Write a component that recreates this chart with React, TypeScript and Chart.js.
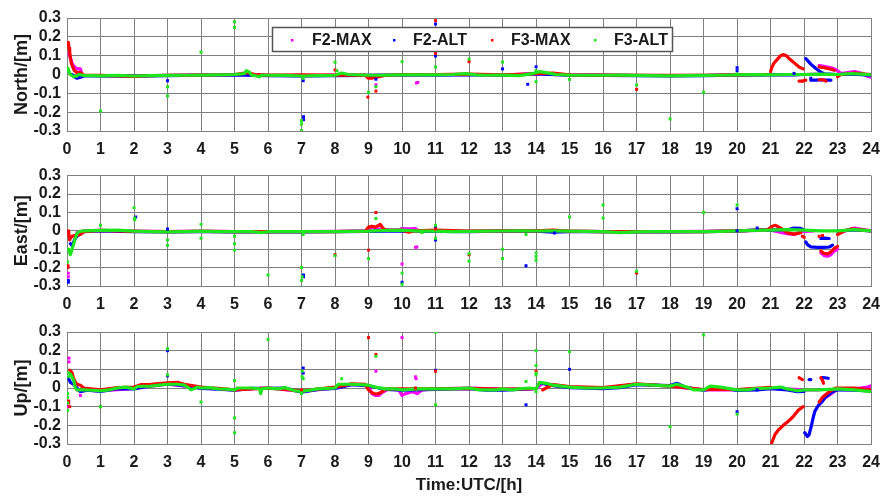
import React, { useEffect, useRef } from 'react';
import { Chart, registerables } from 'chart.js';

Chart.register(...registerables);

type Pt = [number, number | null];

const SERIES_NAMES = ['F2-MAX', 'F2-ALT', 'F3-MAX', 'F3-ALT'];
const SERIES_COLORS = ['#ff00ff', '#0000ff', '#ff0000', '#1de61d'];
const X_TICKS = [0, 1, 2, 3, 4, 5, 6, 7, 8, 9, 10, 11, 12, 13, 14, 15, 16, 17, 18, 19, 20, 21, 22, 23, 24];
const Y_TICKS = [-0.3, -0.2, -0.1, 0, 0.1, 0.2, 0.3];
const Y_TICK_LABELS = ['-0.3', '-0.2', '-0.1', '0', '0.1', '0.2', '0.3'];
const PANEL_TITLES = ['North/[m]', 'East/[m]', 'Up/[m]'];
const X_TITLE = 'Time:UTC/[h]';

// ---------------- North ----------------
const NORTH_F2MAX_TRACK: Pt[] = [
  [0.06, 0.11], [0.1, 0.09], [0.15, 0.06], [0.2, 0.045], [0.3, 0.03], [0.4, 0.03], [0.45, 0.0],
  [0.5, -0.004], [1, -0.006], [2, -0.007], [3, -0.004], [4, -0.002], [5, 0.0], [6, -0.004], [7, -0.007],
  [8, -0.003], [9, -0.004], [10, -0.001], [11, -0.001], [12, 0.0], [13, -0.003], [14, 0.005], [15, -0.003],
  [16, -0.003], [17, -0.004], [18, -0.006], [19, -0.004], [20, -0.002], [21, -0.001], [22, 0.0], [22.4, 0.002], [0, null],
  [22.45, 0.047], [22.6, 0.043], [22.7, 0.04], [22.8, 0.036], [22.9, 0.03], [23.0, 0.02], [23.1, 0.005],
  [23.3, 0.01], [23.5, 0.015], [23.7, 0.008], [23.9, -0.01], [24, -0.015],
];
const NORTH_F2MAX_SPIKES: Pt[] = [[9.22, -0.055], [10.43, -0.045], [10.47, -0.042]];

const NORTH_F2ALT_TRACK: Pt[] = [
  [0.15, 0.0], [0.2, -0.01], [0.3, -0.02], [0.4, -0.015], [0.5, -0.008], [1, -0.008], [2, -0.009], [3, -0.006],
  [4, -0.004], [5, -0.002], [6, -0.006], [7, -0.008], [8, -0.006], [9, -0.005], [10, -0.003], [11, -0.003],
  [12, -0.001], [13, -0.004], [14, 0.003], [15, -0.004], [16, -0.005], [17, -0.006], [18, -0.008], [19, -0.006],
  [20, -0.003], [21, -0.002], [21.7, -0.002], [22.0, 0.0], [0, null],
  [22.05, 0.085], [22.1, 0.075], [22.2, 0.055], [22.3, 0.04], [22.4, 0.025], [22.5, 0.012], [22.6, 0.004],
  [23, 0.0], [23.5, 0.002], [24, -0.005], [0, null],
  [22.2, -0.03], [22.35, -0.03], [22.5, -0.028], [22.65, -0.03], [22.8, -0.03],
];
const NORTH_F2ALT_SPIKES: Pt[] = [
  [3, -0.033], [7.06, -0.224], [7.06, -0.24], [7.05, -0.033], [9.22, -0.025], [11, 0.268], [11, 0.098],
  [13, 0.03], [13.75, -0.052], [14, 0.041], [20, 0.036], [20, 0.02], [21.7, 0.006], [22.2, -0.02],
];

const NORTH_F3MAX_TRACK: Pt[] = [
  [0.04, 0.17], [0.06, 0.14], [0.08, 0.12], [0.1, 0.09], [0.13, 0.06], [0.17, 0.04], [0.22, 0.02], [0.3, 0.01],
  [0.4, 0.01], [0.5, -0.004], [1, -0.005], [2, -0.01], [2.2, -0.008], [3, -0.004], [4, -0.003], [5, 0.0],
  [5.4, 0.01], [5.6, 0.0], [6, -0.003], [7, -0.002], [8, -0.003], [8.9, -0.003], [9.0, -0.02], [9.1, -0.02],
  [9.2, -0.015], [9.35, -0.01], [9.5, -0.004], [10, -0.001], [11, 0.0], [12, 0.002], [13, -0.002], [14, 0.004],
  [14.5, 0.008], [15, -0.002], [16, -0.003], [17, -0.004], [18, -0.005], [19, -0.004], [20, -0.002], [20.9, 0.0], [0, null],
  [21.0, 0.015], [21.03, 0.035], [21.1, 0.06], [21.2, 0.08], [21.3, 0.1], [21.38, 0.106], [21.47, 0.1],
  [21.55, 0.085], [21.65, 0.07], [21.75, 0.055], [21.85, 0.04], [21.97, 0.03], [0, null],
  [21.85, -0.035], [21.95, -0.035], [22.05, -0.03], [0, null],
  [22.45, -0.028], [22.55, -0.028], [22.65, -0.035], [0, null],
  [22.45, 0.04], [22.6, 0.036], [22.7, 0.032], [22.8, 0.028], [22.9, 0.022], [0, null],
  [23.0, -0.012], [23.1, 0.0], [23.5, 0.008], [24, 0.0],
];
const NORTH_F3MAX_SPIKES: Pt[] = [
  [8.0, 0.024], [8.98, -0.12], [9.22, -0.088], [11, 0.286], [11, 0.112], [12, 0.068], [17, -0.079],
];

const NORTH_F3ALT_TRACK: Pt[] = [
  [0.02, 0.035], [0.05, 0.02], [0.1, 0.0], [0.2, -0.012], [0.3, -0.008], [0.35, 0.0], [0.5, -0.005], [1, -0.007],
  [1.5, -0.005], [2, -0.008], [2.5, -0.006], [3, -0.005], [3.5, -0.004], [4, -0.003], [4.5, -0.002], [5, 0.0],
  [5.3, 0.005], [5.35, 0.02], [5.45, 0.012], [5.5, -0.002], [5.75, -0.012], [5.8, -0.004], [6, -0.004],
  [6.5, -0.005], [7, -0.008], [7.5, -0.006], [8, -0.004], [8.2, 0.008], [8.4, 0.0], [9, -0.004], [9.5, -0.003],
  [10, -0.002], [10.5, -0.002], [11, -0.002], [11.5, 0.0], [11.9, 0.005], [12.2, -0.002], [12.5, -0.004],
  [13, -0.003], [13.5, -0.006], [13.9, 0.005], [14.1, 0.015], [14.3, 0.01], [14.6, 0.0], [15, -0.003],
  [15.5, -0.004], [16, -0.004], [16.5, -0.003], [17, -0.005], [17.5, -0.006], [18, -0.007], [18.5, -0.006],
  [19, -0.005], [19.5, -0.004], [20, -0.002], [20.5, -0.001], [21, -0.002], [21.5, 0.0], [22, 0.0],
  [22.5, 0.002], [23, 0.0], [23.4, 0.005], [23.7, 0.002], [24, -0.002],
];
const NORTH_F3ALT_SPIKES: Pt[] = [
  [1, -0.194], [3, -0.065], [3, -0.114], [4, 0.118], [5, 0.28], [5, 0.25], [7, -0.245], [7, -0.263],
  [7, -0.298], [7.05, -0.02], [8, 0.065], [8.06, 0.02], [9, -0.095], [9.22, -0.065], [10, 0.068], [11, 0.04],
  [12, 0.082], [13, 0.066], [14, 0.02], [14, -0.038], [15, -0.026], [17, -0.056], [18, -0.236], [19, -0.095],
  [20, 0.003],
];

// ---------------- East ----------------
const EAST_F2MAX_TRACK: Pt[] = [
  [0.3, -0.01], [0.5, 0.0], [1, 0.003], [2, -0.001], [3, -0.004], [4, -0.002], [5, -0.004], [6, -0.004],
  [7, -0.004], [8, -0.003], [9, 0.0], [9.1, 0.02], [9.2, 0.015], [9.4, 0.005], [9.9, 0.005], [10.0, 0.012],
  [10.2, 0.01], [10.4, 0.012], [10.5, 0.0], [11, -0.001], [12, -0.002], [13, 0.0], [14, 0.0], [15, -0.002],
  [16, -0.004], [17, -0.005], [18, -0.004], [19, -0.003], [20, 0.0], [21, 0.004], [21.5, -0.015],
  [21.7, -0.02], [21.9, -0.005], [22.3, 0.0], [0, null],
  [22.5, -0.12], [22.6, -0.135], [22.7, -0.138], [22.8, -0.13], [22.9, -0.11], [23.0, -0.1], [0, null],
  [23.05, -0.01], [23.5, 0.015], [24, 0.0],
];
const EAST_F2MAX_SPIKES: Pt[] = [[0.04, -0.23], [0.04, -0.25], [10, -0.18], [10.4, -0.09], [10.44, -0.088]];

const EAST_F2ALT_TRACK: Pt[] = [
  [0.1, -0.07], [0.15, -0.08], [0.2, -0.06], [0.25, -0.04], [0.3, -0.03], [0.4, -0.015], [0.5, -0.004],
  [1, 0.0], [2, -0.004], [3, -0.006], [4, -0.004], [5, -0.006], [6, -0.006], [7, -0.006], [8, -0.005],
  [9, -0.003], [10, 0.0], [11, -0.003], [12, -0.004], [13, -0.002], [14, -0.002], [14.5, -0.008], [15, -0.004],
  [16, -0.005], [17, -0.006], [18, -0.006], [19, -0.005], [20, -0.002], [20.6, 0.005], [21, 0.004],
  [21.5, 0.006], [21.7, 0.015], [21.9, 0.013], [22.0, 0.005], [0, null],
  [22.05, -0.06], [22.1, -0.075], [22.2, -0.087], [22.4, -0.09], [22.6, -0.09], [22.75, -0.088], [22.85, -0.078], [0, null],
  [22.5, -0.042], [22.6, -0.04], [22.75, -0.042], [0, null],
  [23, -0.002], [23.5, 0.005], [24, 0.0],
];
const EAST_F2ALT_SPIKES: Pt[] = [
  [0.04, -0.27], [0.04, -0.28], [2.05, 0.075], [3, 0.01], [7.06, -0.24], [7.06, -0.25], [10, -0.28],
  [11, 0.02], [11, -0.05], [13.7, -0.19], [14.55, -0.012], [20, 0.12], [20, 0.0], [20.6, 0.015],
];

const EAST_F3MAX_TRACK: Pt[] = [
  [0.05, 0.0], [0.06, -0.03], [0.08, -0.05], [0.1, -0.04], [0.15, -0.03], [0.25, -0.025], [0.4, -0.02],
  [0.5, -0.005], [1, 0.002], [2, -0.003], [3, -0.005], [4, -0.003], [5, -0.005], [6, -0.005], [7, -0.004],
  [8, -0.004], [8.9, -0.002], [9.0, 0.02], [9.1, 0.025], [9.2, 0.02], [9.3, 0.03], [9.35, 0.035], [9.45, 0.01],
  [9.6, 0.002], [10, 0.003], [10.2, -0.008], [10.4, 0.0], [11, 0.004], [12, -0.002], [13, 0.0], [14, 0.0],
  [14.5, 0.004], [15, -0.002], [16, -0.004], [17, -0.005], [18, -0.005], [19, -0.004], [20, 0.0],
  [20.9, 0.005], [21.05, 0.025], [21.15, 0.03], [21.3, 0.015], [21.5, -0.01], [21.7, -0.018], [21.9, -0.01], [0, null],
  [22.5, -0.11], [22.6, -0.123], [22.7, -0.125], [22.8, -0.115], [22.9, -0.095], [23.0, -0.085], [0, null],
  [23.0, -0.02], [23.2, 0.0], [23.4, 0.01], [24, 0.0],
];
const EAST_F3MAX_SPIKES: Pt[] = [
  [0.03, -0.19], [0.03, -0.2], [8, -0.13], [9, -0.105], [9.22, 0.1], [11, 0.01], [12, -0.13], [17, -0.23],
  [22, -0.035], [21.95, -0.03], [22.45, -0.03], [22.55, -0.025],
];

const EAST_F3ALT_TRACK: Pt[] = [
  [0.05, -0.1], [0.08, -0.12], [0.1, -0.13], [0.15, -0.1], [0.2, -0.07], [0.25, -0.04], [0.3, -0.015],
  [0.35, -0.005], [0.5, 0.0], [1, 0.002], [1.5, 0.004], [2, -0.002], [2.5, -0.004], [3, -0.006], [3.5, -0.004],
  [4, -0.002], [4.5, -0.004], [5, -0.005], [5.5, -0.004], [5.8, -0.01], [6, -0.005], [6.5, -0.005], [7, -0.005],
  [7.5, -0.005], [8, -0.004], [8.5, -0.003], [9, -0.002], [9.5, 0.002], [10, 0.004], [10.5, -0.002], [11, -0.002],
  [11.5, -0.004], [12, -0.003], [12.5, -0.002], [13, -0.001], [13.5, 0.0], [14, -0.001], [14.5, 0.0],
  [15, -0.002], [15.5, -0.003], [16, -0.004], [16.5, -0.01], [17, -0.006], [17.5, -0.005], [18, -0.005],
  [18.5, -0.004], [19, -0.004], [19.5, -0.003], [20, 0.0], [20.5, 0.002], [21, 0.004], [21.5, 0.006],
  [22, 0.004], [22.5, 0.0], [23, 0.0], [23.5, 0.006], [24, 0.0],
];
const EAST_F3ALT_SPIKES: Pt[] = [
  [0.02, -0.17], [1, 0.03], [2, 0.125], [2.02, 0.07], [2.02, 0.06], [3, -0.05], [3, -0.08], [4, 0.035],
  [4, -0.04], [5, -0.03], [5, -0.07], [5, -0.105], [6, -0.24], [7, -0.2], [7.02, -0.25], [7, -0.27],
  [7.05, -0.02], [8, -0.135], [9, -0.15], [9.22, 0.067], [10, -0.23], [10, -0.29], [10.6, -0.01], [11, 0.03],
  [11, -0.04], [12, -0.125], [12, -0.165], [13, -0.1], [13, -0.15], [13.7, -0.02], [14, -0.12], [14, -0.14],
  [14, -0.16], [15, 0.075], [16, 0.14], [16, 0.07], [17, -0.22], [19, 0.1], [20, 0.14],
];

// ---------------- Up ----------------
const UP_F2MAX_TRACK: Pt[] = [
  [0.3, -0.01], [0.5, -0.01], [1, -0.015], [2, -0.002], [3, 0.02], [4, 0.0], [5, -0.01], [6, 0.0], [7, -0.018],
  [8, 0.0], [8.5, 0.02], [9.0, 0.01], [9.1, -0.03], [9.2, -0.04], [9.3, -0.04], [9.4, -0.025], [9.6, -0.005],
  [9.9, -0.01], [10.0, -0.04], [10.1, -0.03], [10.2, -0.025], [10.3, -0.02], [10.45, -0.03], [10.6, -0.01],
  [11, -0.005], [12, 0.0], [13, -0.006], [14, -0.004], [14.2, 0.025], [15, 0.005], [16, 0.0], [17, 0.02],
  [18, 0.01], [19, -0.01], [20, -0.01], [21, 0.0], [22, -0.01], [22.45, -0.01], [0, null],
  [22.55, -0.065], [22.65, -0.05], [22.75, -0.038], [22.85, -0.025], [22.95, -0.012], [23.1, -0.005],
  [23.5, -0.005], [23.9, 0.005], [24, 0.012],
];
const UP_F2MAX_SPIKES: Pt[] = [
  [0.06, 0.16], [0.06, 0.14], [0.02, -0.1], [0.4, -0.04], [9.22, 0.09], [10, 0.27], [10.4, 0.06], [10.42, 0.05],
];

const UP_F2ALT_TRACK: Pt[] = [
  [0.05, 0.05], [0.1, 0.03], [0.2, 0.02], [0.3, 0.0], [0.4, -0.02], [0.6, -0.012], [1, -0.018], [1.5, -0.003],
  [2, -0.005], [2.5, 0.012], [3, 0.022], [3.5, 0.012], [4, -0.002], [4.5, -0.006], [5, -0.012], [5.5, -0.002],
  [6, -0.002], [6.5, 0.0], [7, -0.022], [7.5, -0.007], [8, -0.002], [8.5, 0.018], [9, 0.012], [9.5, -0.008],
  [10, -0.012], [11, -0.008], [12, -0.004], [12.5, -0.012], [13, -0.012], [13.5, -0.008], [13.9, -0.003], [0, null],
  [14.1, 0.028], [14.5, 0.012], [15, 0.002], [16, -0.003], [16.5, 0.002], [17, 0.018], [18, 0.013], [18.2, 0.025],
  [18.5, 0.002], [19, -0.012], [19.5, 0.002], [20, -0.013], [20.6, -0.01], [21, -0.004], [21.5, -0.01],
  [21.8, -0.02], [22.0, -0.018], [0, null],
  [22.02, -0.24], [22.1, -0.26], [22.15, -0.25], [22.22, -0.2], [22.27, -0.16], [22.32, -0.125], [22.42, -0.095],
  [22.53, -0.075], [22.63, -0.05], [22.76, -0.032], [22.85, -0.02], [23, -0.01], [23.5, -0.012], [24, -0.015], [0, null],
  [22.15, 0.045], [22.2, 0.045], [0, null],
  [22.55, 0.056], [22.62, 0.055], [22.72, 0.052],
];
const UP_F2ALT_SPIKES: Pt[] = [
  [3, 0.2], [3, 0.065], [7.05, 0.107], [7.05, 0.08], [11, 0.095], [13.7, -0.09], [15, 0.1], [20, -0.127],
  [20.6, -0.01],
];

const UP_F3MAX_TRACK: Pt[] = [
  [0.08, 0.095], [0.12, 0.09], [0.15, 0.08], [0.2, 0.05], [0.25, 0.03], [0.3, 0.02], [0.4, 0.015], [0.5, 0.0],
  [1, -0.01], [1.5, 0.002], [2, 0.005], [2.2, 0.018], [2.5, 0.02], [3, 0.028], [3.3, 0.03], [3.5, 0.02],
  [4, 0.005], [4.5, -0.002], [5, -0.01], [5.5, -0.005], [6, 0.0], [7, -0.015], [8, 0.005], [8.5, 0.022],
  [8.9, 0.02], [9.0, -0.01], [9.1, -0.025], [9.2, -0.032], [9.3, -0.03], [9.4, -0.02], [9.5, -0.005],
  [10, -0.005], [11, -0.004], [12, -0.002], [13, -0.006], [14, -0.004], [0, null],
  [14.2, -0.01], [14.3, 0.0], [14.5, 0.018], [15, 0.008], [16, 0.002], [17, 0.022], [18, 0.01], [19, -0.008],
  [20, -0.008], [21, 0.003], [0, null],
  [21.03, -0.296], [21.13, -0.25], [21.23, -0.225], [21.38, -0.2], [21.52, -0.18], [21.67, -0.154],
  [21.82, -0.12], [21.97, -0.1], [0, null],
  [21.85, 0.055], [21.9, 0.05], [21.95, 0.045], [0, null],
  [22.5, 0.055], [22.55, 0.04], [22.58, 0.025], [0, null],
  [22.45, -0.075], [22.55, -0.05], [22.65, -0.035], [22.75, -0.02], [22.85, -0.01], [22.95, 0.0], [23.5, 0.0],
  [24, -0.01],
];
const UP_F3MAX_SPIKES: Pt[] = [
  [0.05, -0.07], [0.05, -0.08], [0.08, -0.1], [1, -0.1], [7, -0.01], [9, 0.27], [9.22, 0.18], [10.4, 0.0],
  [11, 0.09], [14, 0.09],
];

const UP_F3ALT_TRACK: Pt[] = [
  [0.1, 0.075], [0.15, 0.06], [0.2, 0.04], [0.25, 0.0], [0.3, -0.01], [0.5, -0.01], [0.75, -0.012], [1, -0.015],
  [1.25, -0.01], [1.5, 0.0], [1.75, 0.005], [2, -0.005], [2.1, 0.008], [2.5, 0.01], [2.75, 0.015], [3, 0.02],
  [3.3, 0.02], [3.5, 0.015], [3.6, 0.005], [3.7, -0.01], [3.9, 0.005], [4, 0.0], [4.25, 0.002], [4.5, -0.005],
  [4.75, -0.006], [5, -0.01], [5.1, 0.0], [5.5, 0.0], [5.75, -0.005], [5.78, -0.03], [5.82, -0.005], [6, 0.0],
  [6.3, -0.005], [6.5, 0.002], [6.8, -0.015], [7, -0.018], [7.3, -0.01], [7.5, -0.005], [8, 0.0], [8.1, 0.02],
  [8.5, 0.02], [9, 0.015], [9.2, 0.005], [9.5, -0.005], [9.8, -0.005], [10, -0.01], [10.5, -0.005],
  [11, -0.005], [11.5, -0.005], [12, 0.0], [12.3, -0.01], [12.8, -0.01], [13, -0.005], [13.3, -0.01],
  [13.5, -0.005], [13.8, 0.0], [14.0, -0.005], [14.1, 0.03], [14.3, 0.025], [14.5, 0.015], [15, 0.005],
  [15.5, 0.0], [16, 0.0], [16.5, 0.005], [17, 0.02], [17.5, 0.015], [18, 0.01], [18.2, 0.02], [18.5, 0.005],
  [18.7, -0.01], [19, -0.01], [19.2, 0.01], [19.5, 0.005], [20, -0.01], [20.3, -0.01], [20.5, -0.004],
  [21, 0.0], [21.3, 0.005], [21.5, -0.005], [21.8, -0.015], [22, -0.01], [22.5, -0.01], [23, -0.005],
  [23.5, -0.01], [24, -0.02],
];
const UP_F3ALT_SPIKES: Pt[] = [
  [0.05, 0.08], [0.05, 0.06], [0.02, -0.03], [0.02, -0.05], [0.02, -0.08], [0.02, -0.12], [1, -0.1], [3, 0.21],
  [3, 0.07], [4, -0.075], [5, 0.04], [5, -0.16], [5, -0.24], [6, 0.26], [7.02, 0.09], [7.02, 0.06], [7.05, 0.05],
  [7, -0.03], [8.2, 0.05], [9.22, 0.17], [11, 0.3], [11, -0.09], [13.7, 0.035], [14, 0.2], [14, 0.12], [14, 0.08],
  [14, 0.07], [14, -0.02], [15, 0.195], [18, -0.207], [19, 0.284], [20, -0.14],
];

const PANEL_TRACKS: Pt[][][] = [
  [NORTH_F2MAX_TRACK, NORTH_F2ALT_TRACK, NORTH_F3MAX_TRACK, NORTH_F3ALT_TRACK],
  [EAST_F2MAX_TRACK, EAST_F2ALT_TRACK, EAST_F3MAX_TRACK, EAST_F3ALT_TRACK],
  [UP_F2MAX_TRACK, UP_F2ALT_TRACK, UP_F3MAX_TRACK, UP_F3ALT_TRACK],
];
const PANEL_SPIKES: Pt[][][] = [
  [NORTH_F2MAX_SPIKES, NORTH_F2ALT_SPIKES, NORTH_F3MAX_SPIKES, NORTH_F3ALT_SPIKES],
  [EAST_F2MAX_SPIKES, EAST_F2ALT_SPIKES, EAST_F3MAX_SPIKES, EAST_F3ALT_SPIKES],
  [UP_F2MAX_SPIKES, UP_F2ALT_SPIKES, UP_F3MAX_SPIKES, UP_F3ALT_SPIKES],
];

// ---------------- layout / style ----------------
const FONT_FAMILY = '"Liberation Sans", Arial, Helvetica, sans-serif';
const TEXT_COLOR = '#1a1a1a';
const GRID_COLOR = '#808080';
const LAYOUT = [
  { top: 0, height: 160, padTop: 18, xHeight: 29, xTitle: false, legend: true },
  { top: 160, height: 155, padTop: 15, xHeight: 29, xTitle: false, legend: false },
  { top: 315, height: 183, padTop: 17, xHeight: 54, xTitle: true, legend: false },
];
const DRAW_ORDER = [4, 3, 2, 1]; // green on top

function splitSegments(track: Pt[]) {
  const segs: { x: number; y: number }[][] = [];
  let cur: { x: number; y: number }[] = [];
  for (const [x, y] of track) {
    if (y === null) {
      if (cur.length) segs.push(cur);
      cur = [];
    } else cur.push({ x, y });
  }
  if (cur.length) segs.push(cur);
  return segs;
}

const legendPlugin = {
  id: 'boxLegend',
  afterDraw(chart: any) {
    const ctx = chart.ctx as CanvasRenderingContext2D;
    ctx.save();
    ctx.fillStyle = '#ffffff';
    ctx.fillRect(272, 27, 401, 25);
    ctx.strokeStyle = '#555555';
    ctx.lineWidth = 1.5;
    ctx.strokeRect(272.5, 27.5, 400, 24);
    ctx.font = `bold 16px ${FONT_FAMILY}`;
    ctx.textBaseline = 'middle';
    ctx.textAlign = 'left';
    const markX = [292, 394, 492, 595];
    const textX = [312, 413, 511, 614];
    SERIES_NAMES.forEach((name, i) => {
      ctx.fillStyle = SERIES_COLORS[i];
      ctx.fillRect(markX[i] - 1, 39, 2.5, 2.5);
      ctx.fillStyle = TEXT_COLOR;
      ctx.fillText(name, textX[i], 40.5);
    });
    ctx.restore();
  },
};

function Panel({ index }: { index: number }) {
  const ref = useRef<HTMLCanvasElement | null>(null);
  const lay = LAYOUT[index];
  useEffect(() => {
    if (!ref.current) return;
    const datasets: any[] = [];
    PANEL_TRACKS[index].forEach((track, s) => {
      splitSegments(track).forEach((seg) => {
        datasets.push({
          label: SERIES_NAMES[s],
          data: seg,
          showLine: true,
          borderColor: SERIES_COLORS[s],
          backgroundColor: SERIES_COLORS[s],
          borderWidth: 3.2,
          borderJoinStyle: 'round',
          borderCapStyle: 'round',
          pointRadius: 0,
          tension: 0,
          order: DRAW_ORDER[s] + 4,
        });
      });
    });
    PANEL_SPIKES[index].forEach((spk, s) => {
      datasets.push({
        label: SERIES_NAMES[s],
        data: spk.map(([x, y]) => ({ x, y })),
        showLine: false,
        pointStyle: 'rect',
        pointRadius: 2.1,
        pointBorderWidth: 0,
        borderWidth: 0,
        backgroundColor: SERIES_COLORS[s],
        borderColor: SERIES_COLORS[s],
        order: DRAW_ORDER[s],
      });
    });
    const tickFont = { family: FONT_FAMILY, size: 16, weight: 'bold' as const };
    const chart = new Chart(ref.current, {
      type: 'scatter',
      data: { datasets },
      plugins: lay.legend ? [legendPlugin] : [],
      options: {
        animation: false,
        responsive: false,
        devicePixelRatio: 1,
        events: [],
        layout: { padding: { top: lay.padTop, right: 12, bottom: 0, left: 0 } },
        plugins: { legend: { display: false }, tooltip: { enabled: false } },
        scales: {
          x: {
            type: 'linear',
            min: 0,
            max: 24,
            afterBuildTicks: (s: any) => {
              s.ticks = X_TICKS.map((v) => ({ value: v }));
            },
            afterFit: (s: any) => {
              s.height = lay.xHeight;
            },
            ticks: {
              autoSkip: false,
              maxRotation: 0,
              padding: 9,
              color: TEXT_COLOR,
              font: tickFont,
              callback: (_v: any, i: number) => String(X_TICKS[i]),
            },
            grid: { color: GRID_COLOR, lineWidth: 1, drawTicks: false },
            border: { color: GRID_COLOR },
            title: {
              display: lay.xTitle,
              text: X_TITLE,
              color: TEXT_COLOR,
              font: { family: FONT_FAMILY, size: 17, weight: 'bold' },
              padding: { top: 0, bottom: 2 },
            },
          },
          y: {
            type: 'linear',
            min: -0.3,
            max: 0.3,
            afterBuildTicks: (s: any) => {
              s.ticks = Y_TICKS.map((v) => ({ value: v }));
            },
            afterFit: (s: any) => {
              s.width = 67;
            },
            ticks: {
              autoSkip: false,
              padding: 6,
              color: TEXT_COLOR,
              font: tickFont,
              callback: (_v: any, i: number) => Y_TICK_LABELS[i],
            },
            grid: { color: GRID_COLOR, lineWidth: 1, drawTicks: false },
            border: { color: GRID_COLOR },
            title: {
              display: true,
              text: PANEL_TITLES[index],
              color: TEXT_COLOR,
              font: { family: FONT_FAMILY, size: 18, weight: 'bold' },
              padding: { top: 11, bottom: 0 },
            },
          },
        },
      },
    } as any);
    return () => chart.destroy();
  }, [index]);
  return (
    <canvas
      ref={ref}
      width={889}
      height={lay.height}
      style={{ position: 'absolute', left: 0, top: lay.top, width: 889, height: lay.height }}
    />
  );
}

export default function App() {
  return (
    <div style={{ position: 'absolute', left: 0, top: 0, width: 889, height: 498, background: '#fff' }}>
      <Panel index={0} />
      <Panel index={1} />
      <Panel index={2} />
    </div>
  );
}
